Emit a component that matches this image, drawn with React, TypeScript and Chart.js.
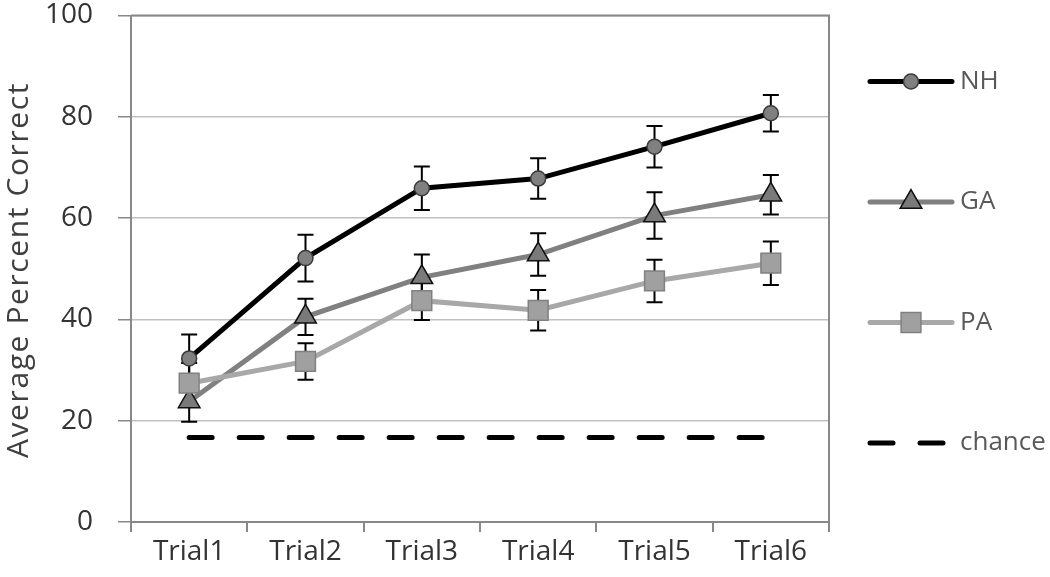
import React, { useEffect, useRef } from 'react';
import { Chart, registerables } from 'chart.js';
import { drawPoint } from 'chart.js/helpers';

Chart.register(...registerables);

const trials = ['Trial1', 'Trial2', 'Trial3', 'Trial4', 'Trial5', 'Trial6'];
const nhValues = [32.3, 52.1, 65.9, 67.8, 74.1, 80.7];
const nhErrors = [4.7, 4.6, 4.3, 4.0, 4.1, 3.6];
const gaValues = [23.8, 40.5, 48.3, 52.8, 60.5, 64.6];
const gaErrors = [4.0, 3.6, 4.5, 4.2, 4.6, 3.9];
const paValues = [27.4, 31.7, 43.7, 41.8, 47.6, 51.1];
const paErrors = [4.0, 3.6, 3.8, 4.0, 4.2, 4.3];
const chanceValues = [16.67, 16.67, 16.67, 16.67, 16.67, 16.67];
const seriesLabels = ['NH', 'GA', 'PA', 'chance'];
const yTickValues = [0, 20, 40, 60, 80, 100];
const yAxisTitle = 'Average Percent Correct';

const FONT = "'Open Sans', 'DejaVu Sans', sans-serif";

const errorBarPlugin = {
  id: 'errorBars',
  beforeDatasetsDraw(chart: any) {
    const ctx = chart.ctx;
    const yScale = chart.scales.y;
    ctx.save();
    ctx.strokeStyle = '#000';
    ctx.lineWidth = 2;
    chart.data.datasets.forEach((ds: any, i: number) => {
      if (!ds.errorBars) return;
      const meta = chart.getDatasetMeta(i);
      meta.data.forEach((pt: any, j: number) => {
        const v = ds.data[j];
        const e = ds.errorBars[j];
        const yt = yScale.getPixelForValue(v + e);
        const yb = yScale.getPixelForValue(v - e);
        const x = pt.x;
        ctx.beginPath();
        ctx.moveTo(x, yt);
        ctx.lineTo(x, yb);
        ctx.moveTo(x - 8, yt);
        ctx.lineTo(x + 8, yt);
        ctx.moveTo(x - 8, yb);
        ctx.lineTo(x + 8, yb);
        ctx.stroke();
      });
    });
    ctx.restore();
  },
};

const framePlugin = {
  id: 'frame',
  beforeDatasetsDraw(chart: any) {
    const { ctx, chartArea } = chart;
    ctx.save();
    ctx.strokeStyle = '#888888';
    ctx.lineWidth = 2;
    ctx.beginPath();
    ctx.moveTo(chartArea.left, chartArea.top);
    ctx.lineTo(chartArea.right, chartArea.top);
    ctx.lineTo(chartArea.right, chartArea.bottom + 10);
    ctx.stroke();
    ctx.restore();
  },
};

const axisTitlePlugin = {
  id: 'axisTitle',
  afterDraw(chart: any) {
    const { ctx } = chart;
    ctx.save();
    ctx.translate(19, 270);
    ctx.rotate(-Math.PI / 2);
    ctx.fillStyle = '#404040';
    ctx.font = `30px ${FONT}`;
    (ctx as any).letterSpacing = '1.6px';
    ctx.textAlign = 'center';
    ctx.textBaseline = 'middle';
    ctx.fillText(yAxisTitle, 0, 0);
    ctx.restore();
  },
};

const legendPlugin = {
  id: 'customLegend',
  afterDraw(chart: any) {
    const { ctx, chartArea } = chart;
    const x0 = chartArea.right + 41;
    const len = 82;
    ctx.save();
    chart.data.datasets.forEach((ds: any, i: number) => {
      const y = chartArea.top + 66 + i * 120.5;
      ctx.save();
      ctx.strokeStyle = ds.borderColor;
      ctx.lineWidth = ds.borderWidth;
      ctx.lineCap = 'round';
      if (ds.borderDash) ctx.setLineDash(ds.borderDash);
      ctx.beginPath();
      ctx.moveTo(x0, y);
      ctx.lineTo(x0 + len, y);
      ctx.stroke();
      ctx.restore();
      if (ds.pointRadius > 0) {
        ctx.save();
        ctx.fillStyle = ds.pointBackgroundColor;
        ctx.strokeStyle = ds.pointBorderColor;
        ctx.lineWidth = ds.pointBorderWidth;
        drawPoint(ctx, { pointStyle: ds.pointStyle, radius: ds.pointRadius, rotation: 0, borderWidth: ds.pointBorderWidth }, x0 + len / 2, y);
        ctx.restore();
      }
      ctx.fillStyle = '#595959';
      ctx.font = `26px ${FONT}`;
      ctx.textBaseline = 'middle';
      ctx.textAlign = 'left';
      ctx.fillText(seriesLabels[i], x0 + len + 8, y);
    });
    ctx.restore();
  },
};

export default function App() {
  const canvasRef = useRef<HTMLCanvasElement | null>(null);

  useEffect(() => {
    document.body.style.margin = '0';
    const canvas = canvasRef.current;
    if (!canvas) return;
    const chart = new Chart(canvas, {
      type: 'line',
      data: {
        labels: trials,
        datasets: [
          {
            label: seriesLabels[0],
            data: nhValues,
            errorBars: nhErrors,
            borderColor: '#000000',
            borderWidth: 5,
            pointStyle: 'circle',
            pointRadius: 7.5,
            pointBackgroundColor: '#808080',
            pointBorderColor: '#3a3a3a',
            pointBorderWidth: 1.5,
            tension: 0,
            order: 3,
          } as any,
          {
            label: seriesLabels[1],
            data: gaValues,
            errorBars: gaErrors,
            borderColor: '#808080',
            borderWidth: 5,
            pointStyle: 'triangle',
            pointRadius: 12.5,
            pointBackgroundColor: '#7a7a7a',
            pointBorderColor: '#111111',
            pointBorderWidth: 1.5,
            tension: 0,
            order: 2,
          } as any,
          {
            label: seriesLabels[2],
            data: paValues,
            errorBars: paErrors,
            borderColor: '#a8a8a8',
            borderWidth: 5,
            pointStyle: 'rect',
            pointRadius: 14,
            pointBackgroundColor: '#a0a0a0',
            pointBorderColor: '#808080',
            pointBorderWidth: 1.5,
            tension: 0,
            order: 1,
          } as any,
          {
            label: seriesLabels[3],
            data: chanceValues,
            borderColor: '#000000',
            borderWidth: 5,
            borderDash: [23, 27],
            borderCapStyle: 'round',
            pointRadius: 0,
            tension: 0,
            order: 4,
          } as any,
        ],
      },
      options: {
        responsive: false,
        animation: false,
        layout: { padding: { top: 13, right: 221, left: 0, bottom: 0 } },
        plugins: {
          legend: { display: false },
          tooltip: { enabled: false },
        },
        scales: {
          x: {
            type: 'category',
            offset: true,
            afterFit: (s: any) => { s.height = 55; s.paddingLeft = 0; s.paddingRight = 0; },
            grid: {
              offset: true,
              drawOnChartArea: false,
              tickLength: 10,
              tickColor: '#888888',
              lineWidth: 2,
            },
            border: { color: '#888888', width: 2 },
            ticks: {
              font: { family: FONT, size: 28, lineHeight: 1 },
              color: '#333333',
              padding: 6,
              maxRotation: 0,
            },
          },
          y: {
            min: 0,
            max: 100,
            afterFit: (s: any) => { s.width = 131; s.paddingTop = 0; s.paddingBottom = 0; },
            afterBuildTicks: (s: any) => { s.ticks = yTickValues.map((v) => ({ value: v })); },
            grid: {
              color: '#c0c0c0',
              lineWidth: 1.5,
              tickColor: '#888888',
              tickLength: 13,
            },
            border: { color: '#888888', width: 2 },
            ticks: {
              font: { family: FONT, size: 28, lineHeight: 1 },
              color: '#333333',
              padding: 25,
            },
          },
        },
      },
      plugins: [framePlugin, errorBarPlugin, legendPlugin, axisTitlePlugin],
    } as any);
    return () => chart.destroy();
  }, []);

  return (
    <div style={{ width: 1050, height: 577 }}>
      <canvas ref={canvasRef} width={1050} height={577} style={{ display: 'block' }} />
    </div>
  );
}
